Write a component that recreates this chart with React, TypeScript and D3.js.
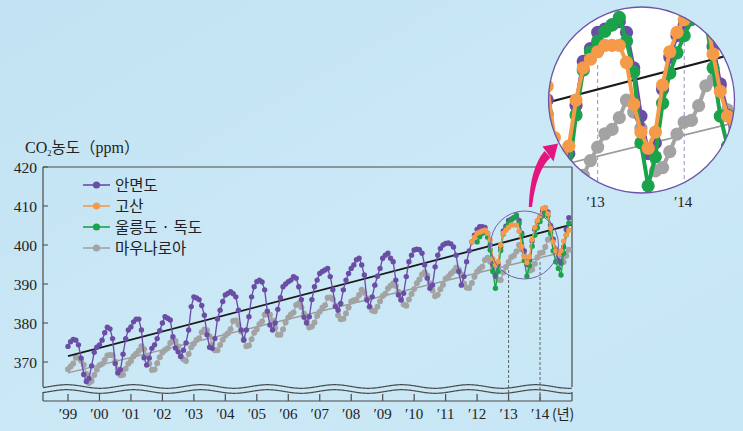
import * as d3 from "d3";

// ---- data (monthly ppm) ----
const yearTicks = [1999, 2000, 2001, 2002, 2003, 2004, 2005, 2006, 2007, 2008, 2009, 2010, 2011, 2012, 2013, 2014];
const yearLabels = ["′99", "′00", "′01", "′02", "′03", "′04", "′05", "′06", "′07", "′08", "′09", "′10", "′11", "′12", "′13", "′14"];
const ppmTicks = [370, 380, 390, 400, 410, 420];

const seriesNames = ["안면도", "고산", "울릉도 · 독도", "마우나로아"];
const seriesColors = ["#6a4ea6", "#f59a48", "#1ba34b", "#a3a3a3"];

// 안면도, Jan 1999 - Dec 2014
const anmyeon = [
  374.0, 375.2, 375.8, 375.6, 374.4, 371.0, 366.8, 365.0, 365.8, 369.0, 372.5, 373.8,
  374.4, 375.6, 377.5, 378.9, 378.5, 376.0, 369.6, 367.2, 368.0, 372.0, 376.0, 378.2,
  379.0, 380.3, 381.0, 381.0, 378.2, 371.1, 369.2, 371.0, 373.5, 374.4, 376.0, 378.0,
  380.0, 381.6, 381.2, 380.8, 376.5, 373.6, 372.6, 371.4, 373.0, 374.9, 378.2, 384.2,
  386.7, 386.4, 386.0, 384.5, 382.0, 377.0, 373.8, 373.5, 376.0, 381.0, 383.3, 385.5,
  387.2, 387.6, 388.0, 387.5, 386.7, 383.3, 378.2, 375.6, 378.2, 381.6, 386.7, 389.3,
  390.6, 391.0, 390.5, 388.5, 383.0, 379.5, 378.2, 380.0, 383.5, 386.5, 389.3, 390.0,
  390.6, 391.0, 391.9, 391.5, 389.3, 386.0, 381.5, 380.0, 381.6, 386.0, 389.3, 391.0,
  392.7, 393.2, 393.6, 394.0, 391.9, 388.5, 384.2, 383.3, 385.0, 388.5, 391.0, 392.7,
  394.0, 394.9, 396.2, 396.6, 394.9, 392.3, 385.9, 384.2, 386.7, 389.7, 392.0, 394.0,
  396.6, 397.4, 397.9, 396.6, 395.7, 391.0, 387.2, 385.9, 387.6, 391.9, 395.7, 397.4,
  398.7, 398.9, 398.8, 397.9, 394.9, 391.5, 388.9, 389.7, 394.4, 397.4, 399.1, 400.0,
  400.4, 400.5, 400.3, 399.5, 397.4, 393.2, 389.7, 391.9, 395.7, 398.5, 400.8, 402.5,
  404.0, 404.7, 404.7, 404.5, 403.0, 400.0, 395.0, 392.0, 395.0, 399.5, 403.6, 404.8,
  406.3, 406.6, 407.0, 407.3, 406.3, 403.0, 398.5, 395.0, 396.0, 401.0, 404.0, 406.0,
  407.0, 408.7, 409.5, 408.5, 405.0, 401.5, 398.6, 396.0, 395.3, 399.5, 404.0, 407.0,
];

// 고산, Nov 2011 - Dec 2014
const gosan = [
  400.8, 402.0,
  403.0, 403.3, 403.6, 403.8, 403.0, 401.3, 396.5, 394.9, 395.7, 400.0, 403.0, 403.8,
  404.5, 405.1, 405.1, 405.1, 403.5, 399.6, 397.0, 395.5, 397.0, 401.4, 404.5, 406.3,
  407.5, 409.4, 409.5, 408.0, 404.3, 400.8, 398.5, 397.9, 398.5, 401.0, 402.6, 403.8,
];

// 울릉도 · 독도, Jan 2012 - Dec 2014
const ulleung = [
  400.8, 402.1, 403.0, 403.4, 402.0, 398.7, 393.2, 388.9, 393.2, 398.6, 402.8, 404.5,
  405.5, 406.4, 407.0, 407.7, 405.5, 402.6, 396.0, 392.0, 394.7, 399.7, 402.5, 404.4,
  406.0, 407.5, 408.5, 407.5, 403.0, 398.5, 395.7, 394.0, 392.3, 397.9, 402.6, 405.6,
];

// 마우나로아, Jan 1999 - Dec 2014
const maunaLoa = [
  368.12, 368.87, 369.59, 371.14, 371.00, 370.35, 369.27, 366.93, 364.63, 365.13, 366.67, 368.01,
  369.14, 369.46, 370.52, 371.66, 371.82, 371.70, 370.12, 368.12, 366.62, 366.73, 368.29, 369.53,
  370.28, 371.50, 372.12, 372.87, 374.02, 373.30, 371.62, 369.55, 367.96, 368.09, 369.68, 371.24,
  372.43, 373.09, 373.52, 374.86, 375.55, 375.41, 374.02, 371.49, 370.71, 370.25, 372.08, 373.78,
  374.68, 375.62, 376.11, 377.65, 378.35, 378.13, 376.62, 374.50, 372.99, 373.01, 374.35, 375.70,
  376.79, 377.37, 378.41, 380.52, 380.63, 379.57, 377.79, 375.86, 374.06, 374.24, 375.86, 377.48,
  378.37, 379.69, 380.41, 382.10, 382.28, 382.13, 380.66, 378.71, 376.98, 377.00, 378.35, 380.11,
  381.38, 382.19, 382.67, 384.61, 385.03, 384.05, 382.46, 380.41, 378.85, 379.13, 380.15, 381.82,
  382.89, 383.90, 384.58, 386.50, 386.56, 386.10, 384.50, 381.99, 380.96, 381.12, 382.45, 383.95,
  385.52, 385.82, 386.03, 387.21, 388.54, 387.76, 386.36, 384.09, 383.18, 382.99, 384.19, 385.56,
  386.94, 387.48, 388.82, 389.55, 390.14, 389.48, 388.03, 386.11, 384.74, 384.43, 386.02, 387.42,
  388.71, 390.20, 391.17, 392.46, 393.00, 392.15, 390.20, 388.35, 386.85, 387.24, 388.67, 389.79,
  391.33, 391.86, 392.60, 393.25, 394.19, 393.74, 392.51, 390.13, 389.08, 389.00, 390.28, 391.86,
  393.12, 393.86, 394.40, 396.18, 396.74, 395.71, 394.36, 392.39, 391.11, 391.05, 392.98, 394.34,
  395.61, 396.85, 397.26, 398.35, 399.98, 398.87, 397.37, 395.41, 393.39, 393.70, 395.19, 396.82,
  397.93, 398.10, 399.47, 401.33, 401.88, 401.31, 399.07, 397.21, 395.40, 395.65, 397.23, 398.79,
];

// trend lines (start / end of period)
const trendYears = [1999, 2015];
const anmyeonTrend = [371.5, 405.2];
const maunaTrend = [367.2, 398.7];

type P = { t: number; v: number };

function monthly(values: number[], startYear: number, startMonth: number): P[] {
  return values.map((v, i) => ({ t: startYear + (startMonth + i) / 12, v }));
}

const SERIF = "'Liberation Serif', 'DejaVu Serif', serif";
const KR = "'Noto Sans CJK KR', 'Noto Sans', sans-serif";

export default function App() {
  const x = d3.scaleLinear().domain([1999, 2015]).range([68, 571.5]);
  const y = d3.scaleLinear().domain([370, 420]).range([362, 167]);
  const line = d3.line<P>().x((d) => x(d.t)).y((d) => y(d.v));

  const series: P[][] = [
    monthly(anmyeon, 1999, 0),
    monthly(gosan, 2011, 10),
    monthly(ulleung, 2012, 0),
    monthly(maunaLoa, 1999, 0),
  ];
  // draw order: gray first, then purple, green, orange
  const front = [0, 2, 1];

  const trendA = trendYears.map((t, i) => ({ t, v: anmyeonTrend[i] }));
  const trendM = trendYears.map((t, i) => ({ t, v: maunaTrend[i] }));

  const left = 43, right = 572, top = 167, axisY = 401;

  // wavy axis break
  const wave = (c: number) => {
    const pts: [number, number][] = d3.range(left, right + 1, 1).map((xx) => [
      xx, c - 1.8 * Math.cos((2 * Math.PI * (xx - 66.7)) / 67),
    ]);
    return d3.line()(pts) as string;
  };

  // zoom circle and inset
  const cx = 524.5, cy = 245, r = 34;
  const icx = 641.5, icy = 100, ir = 93;
  const kk = 2.75;

  const oneSeries = (si: number, lw: number, rad: number) => (
    <g key={si}>
      <path d={line(series[si]) as string} fill="none" stroke={seriesColors[si]} strokeWidth={lw} />
      {series[si].map((d, j) => (
        <circle key={j} cx={x(d.t)} cy={y(d.v)} r={rad} fill={seriesColors[si]} />
      ))}
    </g>
  );

  const renderSeries = (lw: number, rad: number, grayRad: number, trendW: number) => (
    <>
      <path d={line(trendM) as string} fill="none" stroke="#9a9a9a" strokeWidth={trendW * 0.8} />
      {oneSeries(3, lw, grayRad)}
      <path d={line(trendA) as string} fill="none" stroke="#1a1a1a" strokeWidth={trendW} />
      {front.map((si) => oneSeries(si, lw, rad))}
    </>
  );

  return (
    <svg width={743} height={431} style={{ position: "absolute", left: 0, top: 0 }}>
      <defs>
        <linearGradient id="bg" x1="0" y1="0" x2="1" y2="1">
          <stop offset="0%" stopColor="#c2e3f3" />
          <stop offset="55%" stopColor="#cbe8f6" />
          <stop offset="100%" stopColor="#c6e6f5" />
        </linearGradient>
        <clipPath id="insetClip">
          <circle cx={icx} cy={icy} r={ir} />
        </clipPath>
      </defs>
      <rect width={743} height={431} fill="url(#bg)" />

      {/* title */}
      <text x={25} y={153} fontFamily={SERIF} fontSize={16} fill="#222">
        CO
        <tspan fontSize={8.5} dy={3}>2</tspan>
        <tspan fontFamily={KR} fontSize={15.5} dy={-3}>농도（</tspan>
        <tspan>ppm</tspan>
        <tspan fontFamily={KR} fontSize={15.5}>）</tspan>
      </text>

      {/* y ticks */}
      {ppmTicks.map((t) => (
        <g key={t}>
          <line x1={left} x2={left + 5} y1={y(t)} y2={y(t)} stroke="#444" strokeWidth={1} />
          <text x={37} y={y(t) + 5.5} textAnchor="end" fontFamily={SERIF} fontSize={15.5} fill="#222">
            {t}
          </text>
        </g>
      ))}

      {/* frame */}
      <g stroke="#4a4a4a" strokeWidth={1.2} fill="none">
        <line x1={left} x2={right} y1={top} y2={top} />
        <line x1={left} x2={left} y1={top} y2={387} />
        <line x1={right} x2={right} y1={top} y2={387} />
        <path d={wave(386.5)} />
        <path d={wave(391.5)} />
        <line x1={left} x2={left} y1={392} y2={axisY} />
        <line x1={right} x2={right} y1={392} y2={axisY} />
        <line x1={left} x2={right} y1={axisY} y2={axisY} />
        {yearTicks.map((t) => (
          <line key={t} x1={x(t)} x2={x(t)} y1={394} y2={axisY} />
        ))}
      </g>

      {/* x labels */}
      {yearTicks.map((t, i) => (
        <text key={t} x={x(t)} y={419} textAnchor="middle" fontFamily={SERIF} fontSize={15} fill="#222">
          {yearLabels[i]}
        </text>
      ))}
      <text x={552} y={419} fontFamily={KR} fontSize={14} fill="#222">(년)</text>

      {/* dashed guides */}
      <g stroke="#555" strokeWidth={0.9} strokeDasharray="3,2">
        <line x1={x(2013)} x2={x(2013)} y1={270} y2={axisY} />
        <line x1={x(2014)} x2={x(2014)} y1={262} y2={axisY} />
      </g>

      {/* main data */}
      {renderSeries(1.35, 2.7, 3.0, 1.8)}

      {/* zoom circle */}
      <circle cx={cx} cy={cy} r={r} fill="none" stroke="#7560b0" strokeWidth={1} />

      {/* legend */}
      {seriesNames.map((name, i) => (
        <g key={name} transform={`translate(0, ${185 + i * 21})`}>
          <line x1={83} x2={110} y1={0} y2={0} stroke={seriesColors[i]} strokeWidth={1.6} />
          <circle cx={96.5} cy={0} r={3.6} fill={seriesColors[i]} />
          <text x={115} y={5.5} fontFamily={KR} fontSize={15.5} fill="#222">{name}</text>
        </g>
      ))}

      {/* arrow */}
      <g fill="#e5157f">
        <path d="M528.8,207 Q530,168 544.5,151 L550.5,157.5 Q536.5,170 532,207 Z" />
        <path d="M558,143.5 L542.5,146.5 L553.5,161.5 Z" />
      </g>

      {/* inset */}
      <circle cx={icx} cy={icy} r={ir} fill="#ffffff" />
      <g clipPath="url(#insetClip)">
        <g stroke="#9b8dca" strokeWidth={1} strokeDasharray="4,3">
          <line x1={icx + (x(2013) - cx) * kk} x2={icx + (x(2013) - cx) * kk} y1={65} y2={200} />
          <line x1={icx + (x(2014) - cx) * kk} x2={icx + (x(2014) - cx) * kk} y1={42} y2={200} />
        </g>
        <g transform={`translate(${icx},${icy}) scale(${kk}) translate(${-cx},${-cy})`}>
          {renderSeries(1.45, 2.4, 2.4, 0.75)}
        </g>
      </g>
      <circle cx={icx} cy={icy} r={ir} fill="none" stroke="#6a55a8" strokeWidth={1.3} />
      <text x={icx + (x(2013) - cx) * kk - 2} y={207} textAnchor="middle" fontFamily={SERIF} fontSize={15} fill="#222">
        {yearLabels[14]}
      </text>
      <text x={icx + (x(2014) - cx) * kk - 1} y={207} textAnchor="middle" fontFamily={SERIF} fontSize={15} fill="#222">
        {yearLabels[15]}
      </text>
    </svg>
  );
}
